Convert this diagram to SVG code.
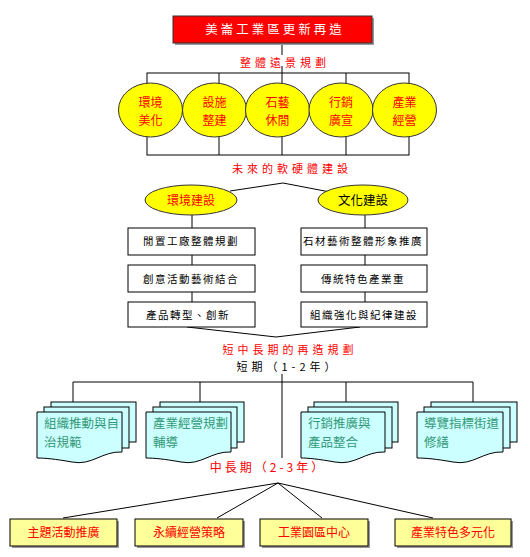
<svg xmlns="http://www.w3.org/2000/svg" width="530" height="557" viewBox="0 0 530 557">
<style>
text{font-family:"Noto Sans CJK TC","Noto Sans CJK SC",sans-serif;}
.ln{stroke:#000;stroke-width:1;fill:none}
.ell{fill:#ffff00;stroke:#333;stroke-width:1}
.rt{fill:#ff0000;font-size:12px;text-anchor:middle}
.hd{fill:#ff0000;font-size:11px;text-anchor:middle;letter-spacing:4px}
.bx{fill:#fff;stroke:#000;stroke-width:1}
.bt{fill:#000;font-size:10.5px;text-anchor:middle;letter-spacing:1.5px}
.doc{fill:#ccffff;stroke:#000;stroke-width:1}
.dt{fill:#339977;font-size:12.5px}
.yb{fill:#ffff99;stroke:#000;stroke-width:1}
.sh{fill:#999}
</style>
<g id="connectors">
<line class="ln" x1="282" y1="44" x2="282" y2="55"/>
<rect class="ln" x="147" y="73" width="262" height="82"/>
<line class="ln" x1="219" y1="73" x2="219" y2="155"/>
<line class="ln" x1="282" y1="66" x2="282" y2="155"/>
<line class="ln" x1="346" y1="73" x2="346" y2="155"/>
<polyline class="ln" points="230,191 283,183 330,192"/>
<line class="ln" x1="192" y1="215" x2="192" y2="302"/>
<line class="ln" x1="365" y1="215" x2="365" y2="302"/>
<polyline class="ln" points="187,327 276,337 360,327"/>
<line class="ln" x1="73" y1="382" x2="473" y2="382"/>
<line class="ln" x1="73" y1="382" x2="73" y2="402"/>
<line class="ln" x1="200" y1="382" x2="200" y2="402"/>
<line class="ln" x1="346" y1="382" x2="346" y2="402"/>
<line class="ln" x1="473" y1="382" x2="473" y2="402"/>
<line class="ln" x1="282" y1="374" x2="282" y2="458"/>
<line class="ln" x1="278" y1="483" x2="63" y2="518"/>
<line class="ln" x1="278" y1="483" x2="217" y2="518"/>
<line class="ln" x1="278" y1="483" x2="322" y2="518"/>
<line class="ln" x1="278" y1="483" x2="433" y2="518"/>
</g>
<g id="title">
<rect x="175" y="18" width="199" height="27" class="sh"/>
<rect x="173" y="16" width="199" height="27" fill="#ff0000" stroke="#333" stroke-width="1"/>
<text x="275" y="34" fill="#fff" font-size="12.5" text-anchor="middle" letter-spacing="3">美崙工業區更新再造</text>
</g>
<g id="label-vision"><text class="hd" x="285" y="67">整體遠景規劃</text></g>
<g id="c1"><ellipse class="ell" cx="150.5" cy="110" rx="32" ry="27"/><text class="rt" x="150.5" y="107">環境</text><text class="rt" x="150.5" y="125">美化</text></g>
<g id="c2"><ellipse class="ell" cx="214.5" cy="110" rx="32" ry="27"/><text class="rt" x="214.5" y="107">設施</text><text class="rt" x="214.5" y="125">整建</text></g>
<g id="c3"><ellipse class="ell" cx="277.5" cy="110" rx="32" ry="27"/><text class="rt" x="277.5" y="107">石藝</text><text class="rt" x="277.5" y="125">休閒</text></g>
<g id="c4"><ellipse class="ell" cx="341" cy="110" rx="32" ry="27"/><text class="rt" x="341" y="107">行銷</text><text class="rt" x="341" y="125">廣宣</text></g>
<g id="c5"><ellipse class="ell" cx="404.5" cy="110" rx="32" ry="27"/><text class="rt" x="404.5" y="107">產業</text><text class="rt" x="404.5" y="125">經營</text></g>
<g id="label-future"><text class="hd" x="292" y="173">未來的軟硬體建設</text></g>
<g id="e-env"><ellipse class="ell" cx="191" cy="200" rx="46" ry="15"/><text class="rt" x="191" y="204.5" font-size="12.5">環境建設</text></g>
<g id="e-cul"><ellipse class="ell" cx="363" cy="200" rx="45" ry="15"/><text x="363" y="204.5" font-size="12.5" text-anchor="middle" fill="#000">文化建設</text></g>
<g id="b1"><rect class="bx" x="128" y="228" width="127" height="27"/><text class="bt" x="191" y="245" font-size="9.5" letter-spacing="1">閒置工廠整體規劃</text></g>
<g id="b2"><rect class="bx" x="128" y="265" width="127" height="27"/><text class="bt" x="191" y="282.5">創意活動藝術結合</text></g>
<g id="b3"><rect class="bx" x="128" y="302" width="127" height="25"/><text class="bt" x="188" y="318.5" font-size="11" letter-spacing="3.7">產品轉型、創新</text></g>
<g id="b4"><rect class="bx" x="301" y="228" width="126" height="27"/><text class="bt" x="363" y="245" font-size="9.5" letter-spacing="0.5">石材藝術整體形象推廣</text></g>
<g id="b5"><rect class="bx" x="301" y="265" width="126" height="27"/><text class="bt" x="363" y="282.5" font-size="11" letter-spacing="3">傳統特色產業重</text></g>
<g id="b6"><rect class="bx" x="301" y="302" width="126" height="25"/><text class="bt" x="364" y="318.5">組織強化與紀律建設</text></g>
<g id="label-plan"><text class="hd" x="290" y="354">短中長期的再造規劃</text></g>
<g id="label-short"><text x="288" y="371" font-size="11" text-anchor="middle" letter-spacing="4" fill="#000">短期（1-2年）</text></g>
<g id="d1">
<rect class="doc" x="51" y="402" width="85" height="40"/>
<rect class="doc" x="44" y="407" width="85" height="41"/>
<path class="doc" d="M37,412 H122 V452 C102,451 92,466 72,462 C55,459 45,458 37,458 Z"/>
<text class="dt" x="44" y="428">組織推動與自</text><text class="dt" x="44" y="447">治規範</text>
</g>
<g id="d2">
<rect class="doc" x="160" y="402" width="84" height="40"/>
<rect class="doc" x="153" y="407" width="84" height="41"/>
<path class="doc" d="M146,412 H231 V452 C211,451 201,466 181,462 C164,459 154,458 146,458 Z"/>
<text class="dt" x="153" y="428">產業經營規劃</text><text class="dt" x="153" y="447">輔導</text>
</g>
<g id="d3">
<rect class="doc" x="314" y="402" width="84" height="40"/>
<rect class="doc" x="308" y="407" width="84" height="41"/>
<path class="doc" d="M301,412 H385 V452 C365,451 355,466 335,462 C318,459 308,458 301,458 Z"/>
<text class="dt" x="308" y="428">行銷推廣與</text><text class="dt" x="308" y="447">產品整合</text>
</g>
<g id="d4">
<rect class="doc" x="431" y="402" width="86" height="40"/>
<rect class="doc" x="424" y="407" width="86" height="41"/>
<path class="doc" d="M417,412 H503 V452 C483,451 473,466 453,462 C436,459 426,458 417,458 Z"/>
<text class="dt" x="424" y="428">導覽指標街道</text><text class="dt" x="424" y="447">修繕</text>
</g>
<g id="label-mid"><text x="268" y="472" font-size="12" fill="#ff0000" text-anchor="middle" letter-spacing="3">中長期（2-3年）</text></g>
<g id="y1"><rect class="sh" x="12" y="521" width="107" height="27"/><rect class="yb" x="10" y="519" width="107" height="27"/><text class="rt" x="63.5" y="537">主題活動推廣</text></g>
<g id="y2"><rect class="sh" x="137" y="521" width="108" height="27"/><rect class="yb" x="135" y="519" width="108" height="27"/><text class="rt" x="189" y="537">永續經營策略</text></g>
<g id="y3"><rect class="sh" x="262" y="521" width="108" height="27"/><rect class="yb" x="260" y="519" width="108" height="27"/><text class="rt" x="314" y="537">工業園區中心</text></g>
<g id="y4"><rect class="sh" x="397" y="521" width="116" height="27"/><rect class="yb" x="395" y="519" width="116" height="27"/><text class="rt" x="453" y="537">產業特色多元化</text></g>
</svg>
